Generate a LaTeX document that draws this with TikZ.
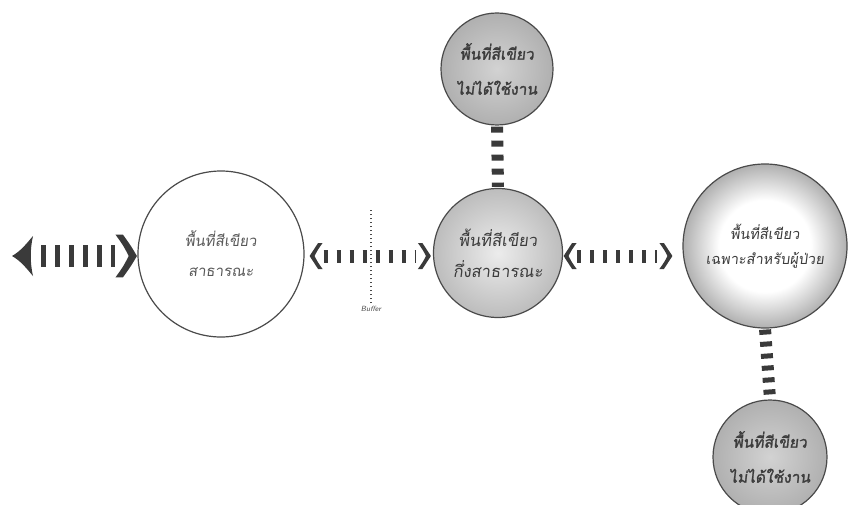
\documentclass[tikz,border=0pt]{standalone}
\usepackage{fontspec}
\newfontfamily\thai[Script=Thai,FakeSlant=0.12]{Loma}
\newfontfamily\thaibold[Script=Thai,FakeSlant=0.12,FakeBold=1.6]{Loma}
\usetikzlibrary{decorations.markings}

\definecolor{ringline}{HTML}{4A4A4A}
\definecolor{bargray}{HTML}{3A3A3A}
\definecolor{txtgray}{HTML}{3C3C3C}
\definecolor{rimgray}{HTML}{B0B0B0}

% white centre fading to grey near the rim
\pgfdeclareradialshading{vignette}{\pgfpointorigin}{color(0bp)=(white); color(14bp)=(white); color(25bp)=(rimgray); color(50bp)=(rimgray)}

\tikzset{
  ring/.style={circle, draw=ringline, line width=1.2pt, inner sep=0pt, align=center, text=txtgray},
  % bold right-pointing chevron, tip at the origin
  chev/.pic={\fill[bargray] (-8.5,-13) .. controls (-3.5,-6) .. (0,0) .. controls (-3.5,6) .. (-8.5,13)
      -- (-13,13) .. controls (-8,6) .. (-5,0) .. controls (-8,-6) .. (-13,-13) -- cycle;},
  % solid arrow head, tip at the origin, body towards +x
  headL/.pic={\fill[bargray] (0,0) .. controls (9,-5) and (15,-13) .. (21,-20)
      .. controls (18,-7) and (18,7) .. (21,20) .. controls (15,13) and (9,5) .. (0,0) -- cycle;},
  barsbig/.style={draw=bargray, line width=22pt, dash pattern=on 5pt off 9pt},
  barssmall/.style={draw=bargray, line width=13pt, dash pattern=on 4pt off 9pt},
  barsvert/.style={draw=bargray, line width=12pt, dash pattern=on 6pt off 8pt},
  barsvert2/.style={draw=bargray, line width=12pt, dash pattern=on 5pt off 7pt},
  bufline/.style={draw=ringline, line width=1.4pt, dash pattern=on 1.5pt off 2.5pt},
}

\begin{document}
\begin{tikzpicture}[x=1pt,y=-1pt]
\path[use as bounding box, fill=white] (0,0) rectangle (848,505);

% circles
\node[ring, fill=white, minimum size=166pt,
      font=\thai\fontsize{15}{30}\selectfont, text=txtgray!85] (c1) at (221,254)
      {พื้นที่สีเขียว\\สาธารณะ};
\node[ring, shading=radial, inner color=gray!15, outer color=gray!52, minimum size=129pt,
      font=\thai\fontsize{16.5}{31}\selectfont] (c2) at (498,253)
      {พื้นที่สีเขียว\\กึ่งสาธารณะ};
\node[ring, shading=vignette, minimum size=164pt,
      font=\thai\fontsize{14.5}{25}\selectfont] (c3) at (765,246)
      {พื้นที่สีเขียว\\เฉพาะสำหรับผู้ป่วย};
\node[ring, shading=radial, inner color=gray!35, outer color=gray!62, minimum size=112pt,
      font=\thaibold\fontsize{15.5}{35}\selectfont] (t) at (497,69)
      {พื้นที่สีเขียว\\ไม่ได้ใช้งาน};
\node[ring, shading=radial, inner color=gray!35, outer color=gray!62, minimum size=114pt,
      font=\thaibold\fontsize{15.5}{35}\selectfont] (b) at (770,457)
      {พื้นที่สีเขียว\\ไม่ได้ใช้งาน};

\coordinate (row) at (0,256);
\coordinate (lend) at (12,256);

% left outer arrow
\draw[barsbig, shorten <=29pt, shorten >=22pt,
  postaction={decorate, decoration={markings,
    mark=at position 0pt with {\pic{headL};},
    mark=at position -0.5pt with {\pic[scale=1.65]{chev};}}}]
  (lend) -- (c1.west |- row);

% public -> semi-public
\draw[barssmall, shorten <=19pt, shorten >=17pt,
  postaction={decorate, decoration={markings,
    mark=at position 5pt with {\pic[xscale=-1]{chev};},
    mark=at position -2pt with {\pic{chev};}}}]
  (c1.east |- row) -- (c2.west |- row);

% semi-public -> patients only
\draw[barssmall, shorten <=14pt, shorten >=25pt,
  postaction={decorate, decoration={markings,
    mark=at position 0.5pt with {\pic[xscale=-1]{chev};},
    mark=at position -10pt with {\pic{chev};}}}]
  (c2.east |- row) -- (c3.west |- row);

% vertical links
\draw[barsvert, shorten <=1pt, shorten >=1pt] (t.south) -- (c2.north);
\draw[barsvert2, shorten <=1pt] (c3.south) -- (b.north);

% buffer marker
\node[font=\sffamily\itshape\fontsize{7.5}{8}\selectfont, text=ringline, inner sep=1pt] (buf) at (371,309) {Buffer};
\coordinate (bt) at (371,210);
\draw[bufline, shorten <=2pt] (buf.north) -- (bt);
\end{tikzpicture}
\end{document}
